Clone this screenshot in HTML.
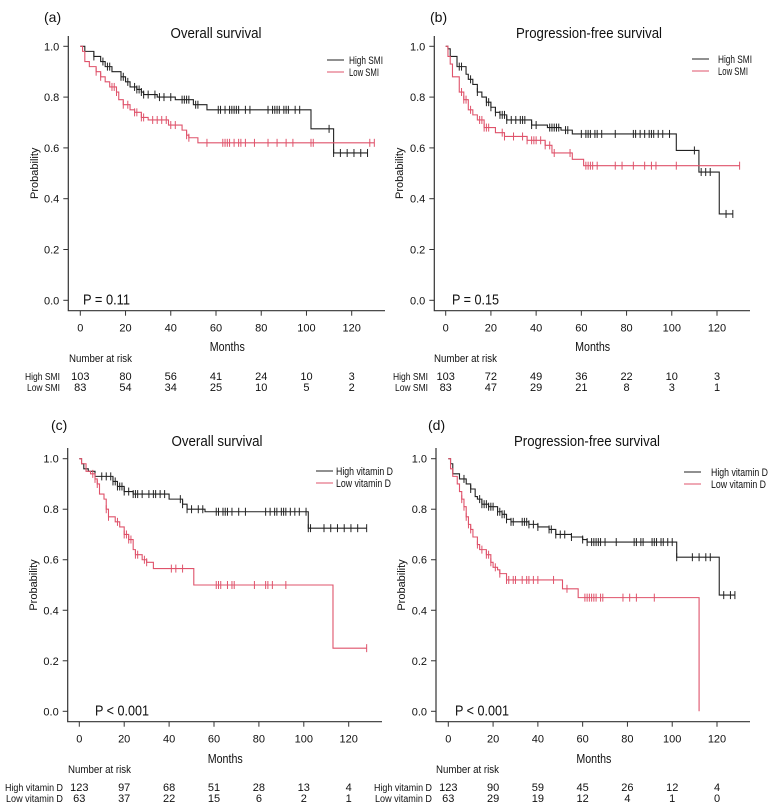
<!DOCTYPE html>
<html><head><meta charset="utf-8">
<style>
html,body{margin:0;padding:0;background:#fff;}
svg{display:block;font-family:"Liberation Sans",sans-serif;}
</style></head>
<body>
<svg id="chart" width="780" height="808" viewBox="0 0 780 808" xmlns="http://www.w3.org/2000/svg"></svg>
<script>
// ---------- Data ----------
const xTicks = [0,20,40,60,80,100,120];
const yTicks = [0,0.2,0.4,0.6,0.8,1.0];

// Panel a: OS by SMI
const aHighSteps = [[2,0.98],[6,0.96],[9,0.94],[11,0.92],[14,0.90],[18,0.88],[20,0.86],[22,0.84],[25,0.83],[27,0.82],[28,0.81],[34,0.80],[42,0.79],[50,0.77],[56,0.75],[102,0.675],[112,0.58]];
const aHighCens = [6,10,12,13,18,19,21,24,25,26,27,28,30,33,35,37,40,45,46,47,48,51,52,61,62,64,66,67,68,69,70,73,75,83,85,86,87,88,90,91,92,95,97,110,112,115,118,121,124,127];
const aLowSteps = [[1,0.98],[2,0.94],[4,0.92],[7,0.90],[9,0.88],[11,0.86],[13,0.84],[16,0.82],[17,0.79],[19,0.77],[22,0.75],[24,0.74],[27,0.72],[30,0.71],[39,0.69],[45,0.67],[47,0.65],[48,0.64],[52,0.62]];
const aLowCens = [7,9,14,15,16,19,21,24,25,27,28,32,34,36,38,40,42,47,48,56,63,64,65,66,68,70,71,73,77,83,87,91,94,102,103,128,130];
const aRiskHigh = [103,80,56,41,24,10,3];
const aRiskLow = [83,54,34,25,10,5,2];

// Panel b: PFS by SMI
const bHighSteps = [[1,0.99],[2,0.96],[5,0.92],[9,0.89],[10,0.87],[12,0.85],[14,0.82],[16,0.80],[18,0.78],[20,0.76],[22,0.74],[24,0.73],[27,0.71],[38,0.69],[45,0.68],[51,0.67],[56,0.655],[102,0.59],[112,0.505],[121,0.34]];
const bHighCens = [6,7,11,14,18,19,20,22,24,25,26,27,29,31,33,34,35,38,40,46,47,48,49,50,53,54,60,62,63,64,66,67,69,75,83,84,86,88,90,91,92,94,96,99,110,113,115,117,124,127];
const bLowSteps = [[1,0.96],[2,0.93],[3,0.88],[6,0.82],[8,0.79],[10,0.75],[12,0.73],[14,0.71],[17,0.68],[22,0.66],[26,0.645],[36,0.63],[44,0.61],[47,0.58],[56,0.555],[61,0.53]];
const bLowCens = [7,8,9,11,15,16,17,18,19,25,26,30,34,36,38,39,40,42,44,46,48,55,62,63,64,65,67,75,78,83,88,91,93,102,130];
const bRiskHigh = [103,72,49,36,22,10,3];
const bRiskLow = [83,47,29,21,8,3,1];

// Panel c: OS by vitamin D
const cHighSteps = [[1,0.98],[2,0.96],[4,0.95],[7,0.93],[15,0.91],[17,0.89],[20,0.87],[24,0.86],[40,0.84],[46,0.82],[48,0.80],[56,0.79],[102,0.725]];
const cHighCens = [7,10,12,14,15,16,17,18,19,20,22,24,25,26,28,31,33,34,36,38,45,46,48,50,53,55,61,62,64,65,66,68,71,74,83,85,87,88,90,91,92,94,96,98,101,102,103,109,112,115,118,121,124,128];
const cLowSteps = [[1,0.98],[3,0.95],[5,0.94],[7,0.92],[8,0.90],[9,0.86],[11,0.84],[12,0.80],[13,0.77],[16,0.75],[18,0.73],[20,0.70],[22,0.68],[24,0.64],[25,0.62],[28,0.60],[30,0.59],[33,0.565],[51,0.50],[113,0.25]];
const cLowCens = [6,7,8,12,13,17,20,21,22,23,25,26,29,30,41,43,46,61,62,63,66,68,69,78,83,84,86,92,128];
const cRiskHigh = [123,97,68,51,28,13,4];
const cRiskLow = [63,37,22,15,6,2,1];

// Panel d: PFS by vitamin D
const dHighSteps = [[1,0.98],[2,0.94],[5,0.92],[8,0.90],[10,0.88],[12,0.85],[13,0.84],[15,0.82],[18,0.81],[22,0.79],[24,0.78],[26,0.76],[28,0.75],[36,0.74],[40,0.73],[45,0.72],[48,0.70],[55,0.69],[60,0.68],[62,0.67],[102,0.61],[121,0.46]];
const dHighCens = [7,10,14,15,16,17,18,19,20,22,23,24,25,26,28,29,33,34,35,36,38,40,45,46,48,50,52,55,60,62,64,65,66,67,68,70,75,83,84,86,87,91,92,93,95,96,98,100,102,109,112,115,117,123,126,128];
const dLowSteps = [[1,0.96],[2,0.93],[4,0.90],[5,0.87],[6,0.84],[7,0.81],[8,0.77],[9,0.74],[10,0.72],[11,0.69],[13,0.66],[14,0.64],[17,0.62],[19,0.59],[20,0.57],[22,0.56],[23,0.545],[26,0.52],[51,0.485],[58,0.45],[112,0.0]];
const dLowCens = [6,7,8,9,10,13,15,17,18,19,21,23,26,27,29,30,33,35,36,38,40,47,53,61,62,63,64,65,66,68,69,78,81,84,92];
const dRiskHigh = [123,90,59,45,26,12,4];
const dRiskLow = [63,29,19,12,4,1,0];

const RED = '#DF536B', BLK = '#222';
const NS = 'http://www.w3.org/2000/svg';
const svg = document.getElementById('chart');
function mk(tag, attrs, parent, text){
  const e = document.createElementNS(NS, tag);
  for (const k in attrs) e.setAttribute(k, attrs[k]);
  if (text !== undefined) e.textContent = text;
  (parent||svg).appendChild(e);
  return e;
}
function fit(e, w){ e.setAttribute('textLength', w); e.setAttribute('lengthAdjust', 'spacingAndGlyphs'); }

function survAt(steps, t){
  let s = 1;
  for (const st of steps){ if (st[0] <= t) s = st[1]; else break; }
  return s;
}

function panel(p){
  const g = mk('g', {});
  
  
  const X = t => p.x0 + (p.x120 - p.x0) * t / 120;
  const Y = v => p.y0 + (p.y1 - p.y0) * v;

  const ax = mk('path', {d:`M${p.axL},${p.axTop} V${p.axB} H${p.axR}`, stroke:'#333', 'stroke-width':1.2, fill:'none'}, g);
  
  
  xTicks.forEach(t => {
    mk('line', {x1:X(t), x2:X(t), y1:p.axB, y2:p.axB+5, stroke:'#333','stroke-width':1}, g);
    const tl = mk('text', {x:X(t), y:p.axB+21, 'text-anchor':'middle','font-size':11, fill:'#111'}, g, String(t));
    
    
  });
  yTicks.forEach(v => {
    mk('line', {x1:p.axL-5, x2:p.axL, y1:Y(v), y2:Y(v), stroke:'#333','stroke-width':1}, g);
    const tl = mk('text', {x:p.axL-9, y:Y(v)+4, 'text-anchor':'end','font-size':11, fill:'#111'}, g, v.toFixed(1));
    
    
  });

  [[p.high,p.highC,BLK,'high-curve'],[p.low,p.lowC,RED,'low-curve']].forEach(([steps,cens,col,nm])=>{
    let d = `M${X(0)},${Y(1)}`;
    steps.forEach(st => { d += ` H${X(st[0])} V${Y(st[1])}`; });
    const maxC = Math.max(...cens);
    if (maxC > steps[steps.length-1][0]) d += ` H${X(maxC)}`;
    const path = mk('path', {d, stroke:col, 'stroke-width':1.1, fill:'none'}, g);
    
    
    cens.forEach(t => {
      const yy = Y(survAt(steps, t));
      const c = mk('line', {x1:X(t), x2:X(t), y1:yy-4, y2:yy+4, stroke:col, 'stroke-width':1}, g);
      
      
    });
  });

  const lab = mk('text', {x:p.labX, y:p.labY, 'font-size':14, fill:'#111'}, g, `(${p.id})`);
  
  
  const ti = mk('text', {x:p.titleX, y:p.titleY, 'text-anchor':'middle','font-size':15, fill:'#111'}, g, p.title);
  fit(ti, p.titleW);
  
  
  const yl = mk('text', {x:0, y:0, transform:`translate(${p.yLabX},${(p.y0+p.y1)/2}) rotate(-90)`, 'text-anchor':'middle','font-size':11, fill:'#111'}, g, 'Probability');
  
  
  const xl = mk('text', {x:X(65), y:p.monthsY, 'text-anchor':'middle','font-size':12.5, fill:'#111'}, g, 'Months');
  fit(xl, 35);
  
  
  const pv = mk('text', {x:p.pX, y:Y(0)+4, 'font-size':15, fill:'#111'}, g, p.pText);
  fit(pv, p.pW);
  
  

  [[p.highName,BLK,0],[p.lowName,RED,1]].forEach(([n,col,i])=>{
    const ly = p.legY + i*12;
    mk('line', {x1:p.legLX, x2:p.legLX+17, y1:ly, y2:ly, stroke:col, 'stroke-width':1.1}, g);
    const lt = mk('text', {x:p.legTX, y:ly+4, 'font-size':11, fill:'#111'}, g, n);
    fit(lt, p.legW[i]);
    
    
  });

  const nr = mk('text', {x:p.nrX, y:p.nrY, 'font-size':11, fill:'#111'}, g, 'Number at risk');
  fit(nr, 63);
  
  
  [[p.highName,p.riskH,p.r1,0],[p.lowName,p.riskL,p.r2,1]].forEach(([n,vals,ry,i])=>{
    const rl = mk('text', {x:p.rowLabEnd, y:ry, 'text-anchor':'end','font-size':10, fill:'#111'}, g, n);
    fit(rl, p.rowW[i]);
    
    
    vals.forEach((v,j)=>{
      const tv = mk('text', {x:X(xTicks[j]), y:ry, 'text-anchor':'middle','font-size':11, fill:'#111'}, g, String(v));
      
      
    });
  });
}

panel({id:'a', title:'Overall survival', titleW:91, pText:'P = 0.11', pW:47, highName:'High SMI', lowName:'Low SMI',
  high:aHighSteps, highC:aHighCens, low:aLowSteps, lowC:aLowCens, riskH:aRiskHigh, riskL:aRiskLow,
  x0:80.3, x120:351.7, y1:46.3, y0:300.3, axL:68.3, axTop:36, axB:310.7, axR:385,
  labX:44, labY:22, titleX:216, titleY:38, yLabX:38, monthsY:351, pX:83,
  legLX:327, legTX:349, legY:60, legW:[34,30], nrX:69, nrY:362, rowLabEnd:60, rowW:[35,33], r1:380, r2:391});
panel({id:'b', title:'Progression-free survival', titleW:146, pText:'P = 0.15', pW:47, highName:'High SMI', lowName:'Low SMI',
  high:bHighSteps, highC:bHighCens, low:bLowSteps, lowC:bLowCens, riskH:bRiskHigh, riskL:bRiskLow,
  x0:445.7, x120:717, y1:46.3, y0:300.3, axL:434.3, axTop:36, axB:310.7, axR:750,
  labX:430, labY:22, titleX:589, titleY:38, yLabX:403, monthsY:351, pX:452,
  legLX:692, legTX:718, legY:59, legW:[34,30], nrX:434, nrY:362, rowLabEnd:428, rowW:[35,33], r1:380, r2:391});
panel({id:'c', title:'Overall survival', titleW:91, pText:'P < 0.001', pW:54, highName:'High vitamin D', lowName:'Low vitamin D',
  high:cHighSteps, highC:cHighCens, low:cLowSteps, lowC:cLowCens, riskH:cRiskHigh, riskL:cRiskLow,
  x0:79.3, x120:348.7, y1:458.7, y0:711.3, axL:67.7, axTop:448, axB:721.7, axR:382,
  labX:51, labY:430, titleX:217, titleY:446, yLabX:37, monthsY:763, pX:95,
  legLX:316, legTX:336, legY:471, legW:[57,55], nrX:68, nrY:773, rowLabEnd:63, rowW:[58,57], r1:791, r2:802});
panel({id:'d', title:'Progression-free survival', titleW:146, pText:'P < 0.001', pW:54, highName:'High vitamin D', lowName:'Low vitamin D',
  high:dHighSteps, highC:dHighCens, low:dLowSteps, lowC:dLowCens, riskH:dRiskHigh, riskL:dRiskLow,
  x0:448.3, x120:717, y1:458.7, y0:711.3, axL:436, axTop:448, axB:721.7, axR:750,
  labX:428, labY:430, titleX:587, titleY:446, yLabX:405, monthsY:763, pX:455,
  legLX:684, legTX:711, legY:472, legW:[57,55], nrX:436, nrY:773, rowLabEnd:432, rowW:[58,57], r1:791, r2:802});
</script>
</body></html>
